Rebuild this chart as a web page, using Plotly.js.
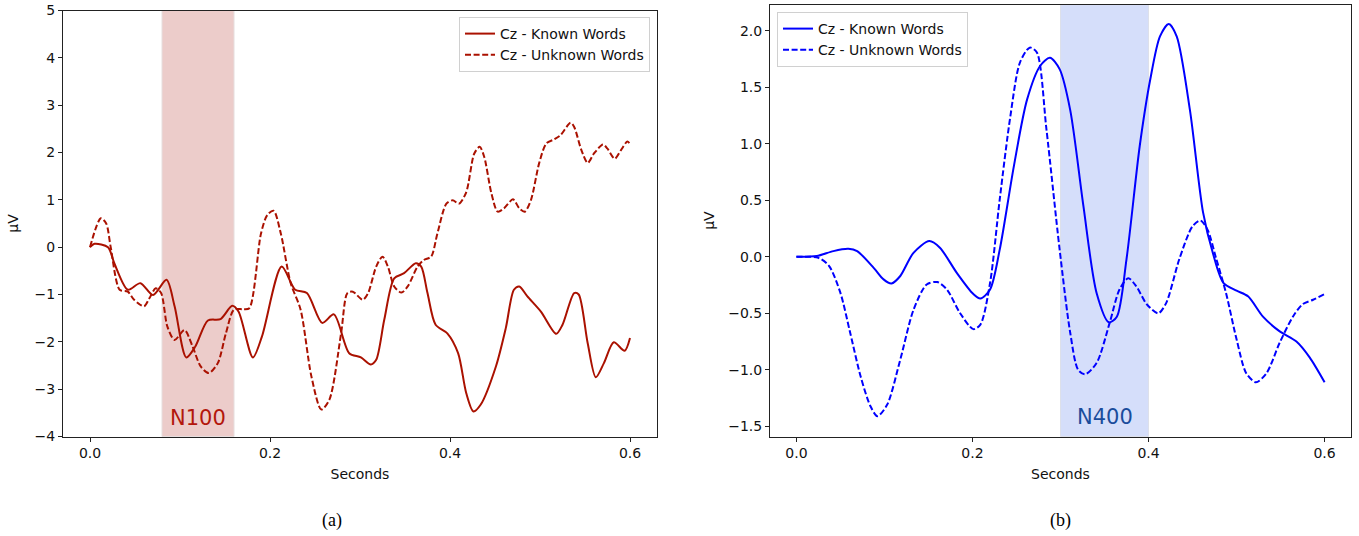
<!DOCTYPE html>
<html>
<head>
<meta charset="utf-8">
<script src="https://cdn.plot.ly/plotly-3.0.1.min.js"></script>
<style>html,body{margin:0;padding:0;background:#fff}#chart{width:1359px;height:536px}</style>
</head>
<body>
<div id="chart"></div>
<script>
// ---------- Data: panel (a) N100, Cz ----------
const aKnownT = [0,0.005,0.02,0.027,0.042,0.056,0.07,0.085,0.094,0.107,0.117,0.131,0.145,0.158,0.165,0.181,0.191,0.213,0.228,0.241,0.258,0.271,0.288,0.301,0.312,0.318,0.327,0.338,0.349,0.362,0.368,0.375,0.384,0.397,0.409,0.418,0.426,0.434,0.451,0.462,0.471,0.477,0.486,0.501,0.518,0.525,0.538,0.543,0.553,0.562,0.571,0.582,0.594,0.6];
const aKnownV = [0,0.07,0,-0.34,-0.9,-0.76,-1.01,-0.69,-1.25,-2.33,-2.1,-1.55,-1.52,-1.24,-1.36,-2.33,-1.89,-0.41,-0.9,-0.97,-1.6,-1.42,-2.24,-2.33,-2.48,-2.38,-1.53,-0.66,-0.55,-0.34,-0.41,-0.97,-1.64,-1.82,-2.24,-3.08,-3.47,-3.33,-2.52,-1.71,-0.9,-0.83,-1.04,-1.36,-1.83,-1.64,-0.97,-1.0,-2.03,-2.75,-2.45,-2.01,-2.19,-1.92];
const aUnknownT = [0,0.012,0.018,0.023,0.033,0.042,0.049,0.06,0.066,0.073,0.079,0.086,0.094,0.105,0.114,0.123,0.132,0.142,0.151,0.16,0.17,0.177,0.19,0.197,0.204,0.212,0.223,0.234,0.246,0.257,0.266,0.279,0.286,0.292,0.303,0.309,0.318,0.325,0.331,0.338,0.346,0.353,0.364,0.371,0.379,0.386,0.396,0.403,0.41,0.418,0.427,0.433,0.438,0.446,0.453,0.46,0.47,0.477,0.483,0.49,0.499,0.507,0.516,0.523,0.534,0.538,0.546,0.553,0.56,0.57,0.575,0.583,0.59,0.597,0.6];
const aUnknownV = [0,0.61,0.5,0,-0.9,-0.94,-1.11,-1.25,-1.08,-0.87,-0.97,-1.68,-1.96,-1.75,-2.1,-2.52,-2.66,-2.45,-1.82,-1.32,-1.31,-1.29,0.29,0.68,0.77,0.29,-0.76,-1.32,-2.73,-3.43,-3.22,-1.82,-0.97,-0.94,-1.11,-0.97,-0.41,-0.2,-0.41,-0.83,-0.96,-0.83,-0.41,-0.27,-0.2,0.29,0.92,0.99,0.92,1.16,1.98,2.12,1.91,1.14,0.75,0.82,1.01,0.82,0.75,1.0,1.77,2.19,2.28,2.37,2.63,2.54,2.05,1.78,1.98,2.17,2.08,1.87,2.05,2.23,2.18];

// ---------- Data: panel (b) N400, Cz ----------
const bKnownT = [0,0.023,0.042,0.059,0.069,0.088,0.099,0.108,0.118,0.133,0.151,0.163,0.182,0.201,0.209,0.22,0.231,0.247,0.262,0.277,0.288,0.299,0.311,0.326,0.341,0.355,0.364,0.375,0.39,0.402,0.413,0.423,0.432,0.447,0.462,0.473,0.485,0.5,0.513,0.53,0.549,0.568,0.583,0.6];
const bKnownV = [0,0.006,0.05,0.07,0.05,-0.1,-0.2,-0.236,-0.17,0.035,0.139,0.08,-0.14,-0.33,-0.37,-0.29,0.065,0.8,1.39,1.69,1.76,1.66,1.3,0.45,-0.32,-0.58,-0.53,-0.02,0.98,1.57,1.95,2.06,1.95,1.3,0.39,0.035,-0.23,-0.3,-0.35,-0.53,-0.66,-0.75,-0.89,-1.11];
const bUnknownT = [0,0.025,0.037,0.05,0.061,0.073,0.084,0.092,0.103,0.118,0.133,0.148,0.16,0.171,0.186,0.201,0.209,0.22,0.231,0.243,0.254,0.265,0.273,0.284,0.299,0.311,0.32,0.328,0.341,0.356,0.367,0.377,0.386,0.398,0.411,0.42,0.435,0.45,0.459,0.467,0.477,0.488,0.5,0.511,0.522,0.534,0.549,0.564,0.575,0.587,0.6];
const bUnknownV = [0,-0.01,-0.08,-0.32,-0.67,-1.06,-1.32,-1.41,-1.31,-0.91,-0.47,-0.245,-0.224,-0.29,-0.5,-0.64,-0.6,-0.23,0.51,1.24,1.72,1.85,1.81,1.13,0.065,-0.67,-1.0,-1.04,-0.94,-0.58,-0.29,-0.19,-0.26,-0.42,-0.5,-0.41,-0.02,0.27,0.32,0.24,-0.02,-0.32,-0.73,-1.03,-1.11,-1.03,-0.76,-0.53,-0.42,-0.38,-0.33];

const seriesNames = ["Cz - Known Words", "Cz - Unknown Words"];
const windowA = [0.08, 0.16], windowB = [0.3, 0.4];
const labelA = "N100", labelB = "N400";
const xTicks = [0, 0.2, 0.4, 0.6];
const xTickText = ["0.0", "0.2", "0.4", "0.6"];
const yTicksA = [-4,-3,-2,-1,0,1,2,3,4,5];
const yTicksB = [-1.5,-1,-0.5,0,0.5,1,1.5,2];
const yTickTextB = ["−1.5","−1.0","−0.5","0.0","0.5","1.0","1.5","2.0"];

const red = "#aa1100", blue = "#0000ff";
const FONT = "DejaVu Sans, sans-serif";
const DASH = "6px,2.6px";

const traces = [
  {x: aKnownT, y: aKnownV, name: seriesNames[0], xaxis: "x", yaxis: "y", mode: "lines",
   line: {color: red, width: 2, shape: "spline", smoothing: 0.8}, legend: "legend"},
  {x: aUnknownT, y: aUnknownV, name: seriesNames[1], xaxis: "x", yaxis: "y", mode: "lines",
   line: {color: red, width: 2, dash: DASH, shape: "spline", smoothing: 0.8}, legend: "legend"},
  {x: bKnownT, y: bKnownV, name: seriesNames[0], xaxis: "x2", yaxis: "y2", mode: "lines",
   line: {color: blue, width: 2, shape: "spline", smoothing: 0.8}, legend: "legend2"},
  {x: bUnknownT, y: bUnknownV, name: seriesNames[1], xaxis: "x2", yaxis: "y2", mode: "lines",
   line: {color: blue, width: 2, dash: DASH, shape: "spline", smoothing: 0.8}, legend: "legend2"}
];

const axCommon = {
  showgrid: false, zeroline: false, showline: true, mirror: true,
  linecolor: "#222", linewidth: 1, ticks: "outside", ticklen: 4, tickcolor: "#222",
  tickfont: {family: FONT, size: 14, color: "#111"}, automargin: false
};

const layout = {
  width: 1359, height: 536,
  margin: {l: 0, r: 0, t: 0, b: 0},
  paper_bgcolor: "#fff", plot_bgcolor: "#fff",
  font: {family: FONT, size: 14, color: "#111"},
  xaxis: Object.assign({}, axCommon, {domain: [63/1359, 657/1359], anchor: "y",
    range: [-0.03, 0.63], tickvals: xTicks, ticktext: xTickText,
    title: {text: "Seconds", font: {family: FONT, size: 14}, standoff: 8}}),
  yaxis: Object.assign({}, axCommon, {domain: [1-436.5/536, 1-10.5/536], anchor: "x",
    range: [-4, 5], tickvals: yTicksA,
    title: {text: "µV", font: {family: FONT, size: 14}, standoff: 12}}),
  xaxis2: Object.assign({}, axCommon, {domain: [770/1359, 1351/1359], anchor: "y2",
    range: [-0.03, 0.63], tickvals: xTicks, ticktext: xTickText,
    title: {text: "Seconds", font: {family: FONT, size: 14}, standoff: 8}}),
  yaxis2: Object.assign({}, axCommon, {domain: [1-436.5/536, 1-4.7/536], anchor: "x2",
    range: [-1.59, 2.23], tickvals: yTicksB, ticktext: yTickTextB,
    title: {text: "µV", font: {family: FONT, size: 14}, standoff: 10}}),
  legend: {x: 650/1359, y: 1-17/536, xanchor: "right", yanchor: "top",
    bgcolor: "rgba(255,255,255,0.85)", bordercolor: "#d0d0d0", borderwidth: 1,
    font: {family: FONT, size: 14, color: "#111"}, tracegroupgap: 0},
  legend2: {x: 777/1359, y: 1-12/536, xanchor: "left", yanchor: "top",
    bgcolor: "rgba(255,255,255,0.85)", bordercolor: "#d0d0d0", borderwidth: 1,
    font: {family: FONT, size: 14, color: "#111"}, tracegroupgap: 0},
  shapes: [
    {type: "rect", xref: "x", yref: "y domain", x0: windowA[0], x1: windowA[1], y0: 0, y1: 1,
     fillcolor: "#ecccca", line: {color: "#e6dede", width: 1}, layer: "below"},
    {type: "rect", xref: "x2", yref: "y2 domain", x0: windowB[0], x1: windowB[1], y0: 0, y1: 1,
     fillcolor: "#d5defa", line: {color: "#dde0ea", width: 1}, layer: "below"}
  ],
  annotations: [
    {xref: "x", yref: "y", x: (windowA[0]+windowA[1])/2, y: -3.6, text: labelA, showarrow: false,
     font: {family: FONT, size: 21, color: "#b3170c"}},
    {xref: "x2", yref: "y2", x: (windowB[0]+windowB[1])/2, y: -1.42, text: labelB, showarrow: false,
     font: {family: FONT, size: 21, color: "#1a4c9c"}},
    {xref: "paper", yref: "paper", x: 332/1359, y: 1-520/536, xanchor: "center", yanchor: "middle",
     text: "(a)", showarrow: false, font: {family: "Liberation Serif, serif", size: 18, color: "#000"}},
    {xref: "paper", yref: "paper", x: 1060/1359, y: 1-520/536, xanchor: "center", yanchor: "middle",
     text: "(b)", showarrow: false, font: {family: "Liberation Serif, serif", size: 18, color: "#000"}}
  ],
  showlegend: true
};

Plotly.newPlot("chart", traces, layout, {displayModeBar: false, staticPlot: true});
</script>
</body>
</html>
